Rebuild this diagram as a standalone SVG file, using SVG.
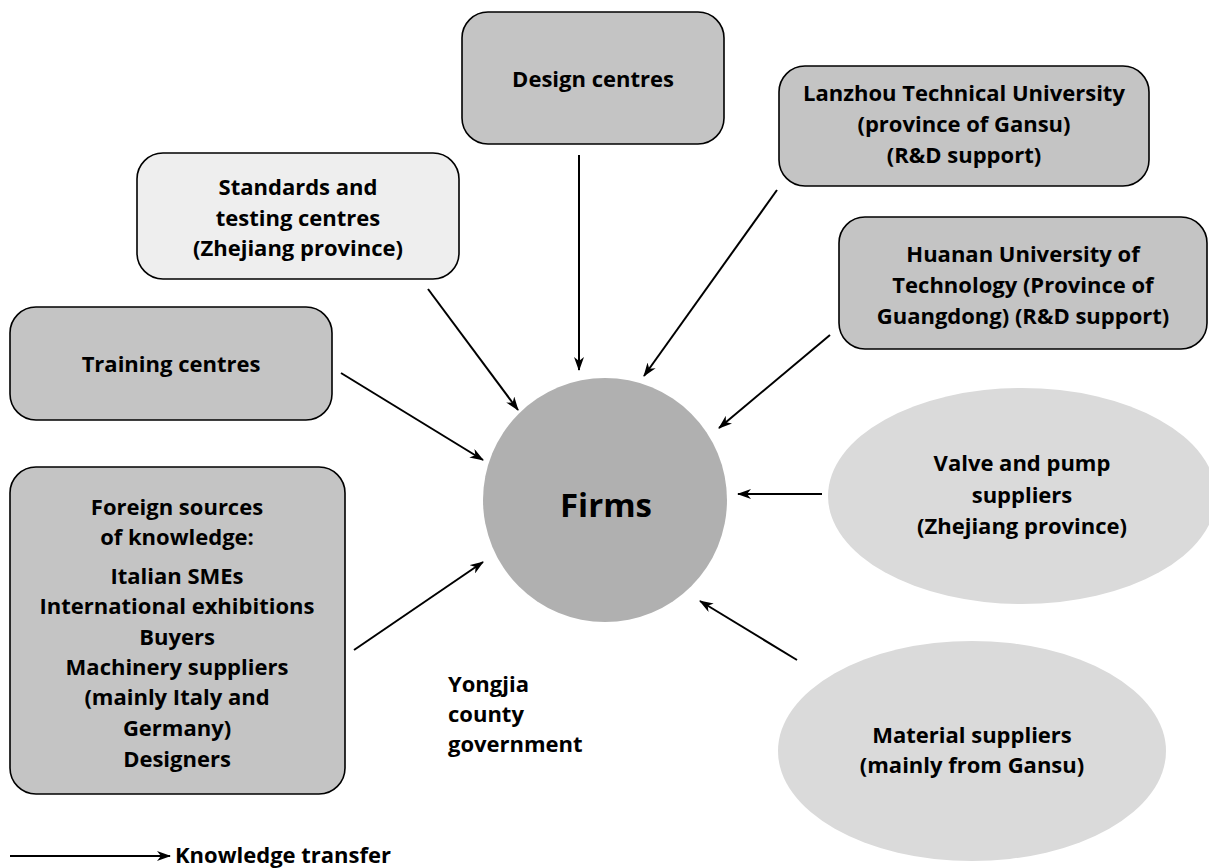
<svg xmlns="http://www.w3.org/2000/svg" width="1209" height="868" viewBox="0 0 1209 868">
<style>
.box{stroke:#000;stroke-width:1.6}
.g{fill:#c4c4c4}
.l{fill:#eeeeee}
text{font-family:"Open Sans","Liberation Sans",sans-serif;font-weight:bold;font-size:22px;fill:#000;text-anchor:middle}
.c line{stroke:#000;stroke-width:2;marker-end:url(#ah)}
</style>
<defs>
<marker id="ah" viewBox="0 0 14 10" refX="13" refY="5" markerWidth="14" markerHeight="10" markerUnits="userSpaceOnUse" orient="auto">
<path d="M0,0 L14,5 L0,10 L4,5 Z" fill="#000"/>
</marker>
</defs>
<rect width="1209" height="868" fill="#fff"/>
<g id="design"><rect class="box g" x="462" y="12" width="262" height="132" rx="26"/><text x="593" y="87">Design centres</text></g>
<g id="lanzhou"><rect class="box g" x="779" y="66" width="370" height="120" rx="26"/><text x="964" y="101">Lanzhou Technical University</text><text x="964" y="132">(province of Gansu)</text><text x="964" y="163">(R&amp;D support)</text></g>
<g id="standards"><rect class="box l" x="137" y="153" width="322" height="126" rx="26"/><text x="298" y="195">Standards and</text><text x="298" y="226">testing centres</text><text x="298" y="256">(Zhejiang province)</text></g>
<g id="huanan"><rect class="box g" x="839" y="217" width="368" height="132" rx="26"/><text x="1023" y="262">Huanan University of</text><text x="1023" y="293">Technology (Province of</text><text x="1023" y="324">Guangdong) (R&amp;D support)</text></g>
<g id="training"><rect class="box g" x="10" y="307" width="322" height="113" rx="26"/><text x="171" y="372">Training centres</text></g>
<g id="foreign"><rect class="box g" x="10" y="467" width="335" height="327" rx="26"/>
<text x="177" y="515">Foreign sources</text><text x="177" y="545">of knowledge:</text>
<text x="177" y="584">Italian SMEs</text><text x="177" y="614">International exhibitions</text><text x="177" y="645">Buyers</text><text x="177" y="675">Machinery suppliers</text><text x="177" y="705">(mainly Italy and</text><text x="177" y="736">Germany)</text><text x="177" y="767">Designers</text></g>
<g id="firms"><circle cx="605" cy="500" r="122" fill="#b0b0b0"/><text x="606" y="517" style="font-size:33px">Firms</text></g>
<g id="valve"><ellipse cx="1022" cy="496" rx="194" ry="108" fill="#dadada"/><text x="1022" y="471">Valve and pump</text><text x="1022" y="503">suppliers</text><text x="1022" y="534">(Zhejiang province)</text></g>
<g id="material"><ellipse cx="972" cy="751" rx="194" ry="110" fill="#dadada"/><text x="972" y="743">Material suppliers</text><text x="972" y="773">(mainly from Gansu)</text></g>
<g id="yongjia"><text x="448" y="692" style="text-anchor:start">Yongjia</text><text x="448" y="722" style="text-anchor:start">county</text><text x="448" y="752" style="text-anchor:start">government</text></g>
<g id="connectors" class="c">
<line x1="579" y1="155" x2="579" y2="370"/>
<line x1="428" y1="289" x2="518" y2="410"/>
<line x1="777" y1="190" x2="644" y2="376"/>
<line x1="830" y1="335" x2="719" y2="428"/>
<line x1="341" y1="373" x2="483" y2="460"/>
<line x1="822" y1="494" x2="738" y2="494"/>
<line x1="797" y1="660" x2="700" y2="601"/>
<line x1="354" y1="650" x2="483" y2="562"/>
<line x1="10" y1="856" x2="170" y2="856"/>
</g>
<g id="legend"><text x="175" y="863" style="text-anchor:start">Knowledge transfer</text></g>
</svg>
